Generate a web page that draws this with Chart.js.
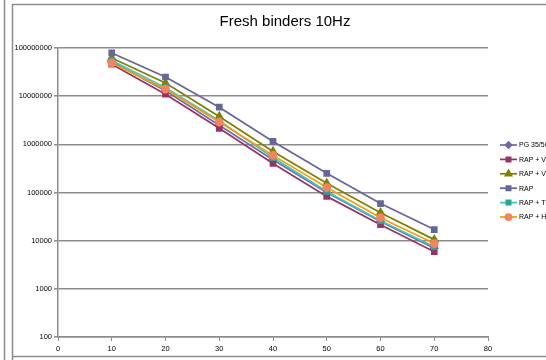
<!DOCTYPE html>
<html>
<head>
<meta charset="utf-8">
<script src="https://cdn.jsdelivr.net/npm/chart.js@4.4.0/dist/chart.umd.min.js"></script>
<style>
  body { margin: 0; background: #fff; }
  canvas { display: block; }
</style>
</head>
<body>
<canvas id="freqChart" width="546" height="360"></canvas>
<script>
// temperatures (x values) and stiffness per binder
const temps = [10, 20, 30, 40, 50, 60, 70];
const pg3550 = [5.2e7, 1.3e7, 2.5e6, 4.8e5, 1.0e5, 2.5e4, 7.0e3];
const rapVe = [4.6e7, 1.1e7, 2.15e6, 4.0e5, 8.3e4, 2.15e4, 5.9e3];
const rapVo = [6.2e7, 1.87e7, 3.8e6, 7.1e5, 1.55e5, 3.8e4, 1.05e4];
const rap = [7.9e7, 2.5e7, 5.9e6, 1.15e6, 2.5e5, 5.9e4, 1.7e4];
const rapTo = [5.5e7, 1.5e7, 3.1e6, 5.3e5, 1.05e5, 2.6e4, 7.5e3];
const rapHo = [4.9e7, 1.4e7, 2.9e6, 5.9e5, 1.27e5, 3.0e4, 8.7e3];
const yTicks = [100, 1000, 10000, 100000, 1000000, 10000000, 100000000];
const xTicks = [0, 10, 20, 30, 40, 50, 60, 70, 80];

const labelFont = "'Liberation Sans', sans-serif";

function toPoints(vals) {
    return temps.map((t, i) => ({ x: t, y: vals[i] }));
}

const seriesDefs = [
    { label: "PG 35/50", data: pg3550, line: "#7070b0", fill: "#6a6aa8", style: "rectRot", r: 3.5 },
    { label: "RAP + VE", data: rapVe, line: "#993366", fill: "#993366", style: "rect", r: 3.5 },
    { label: "RAP + VO", data: rapVo, line: "#808000", fill: "#808000", style: "triangle", r: 4 },
    { label: "RAP", data: rap, line: "#666699", fill: "#666699", style: "rect", r: 3.5 },
    { label: "RAP + TO", data: rapTo, line: "#33cccc", fill: "#2aa595", style: "rect", r: 3.5 },
    { label: "RAP + HO", data: rapHo, line: "#ff9900", fill: "#f4845f", style: "circle", r: 3.5 }
];

// frame, title and the Excel-like legend
const decorPlugin = {
    id: "decor",
    afterDraw(chart) {
        const c = chart.ctx;
        c.save();
        c.strokeStyle = "#8c8c8c";
        c.lineWidth = 1.5;
        c.beginPath();
        c.moveTo(4.5, 0); c.lineTo(4.5, 360);
        c.moveTo(12.5, 360); c.lineTo(12.5, 4.5); c.lineTo(546, 4.5);
        c.moveTo(12.5, 356.5); c.lineTo(546, 356.5);
        c.stroke();

        c.fillStyle = "#000";
        c.font = "15px 'Liberation Sans', sans-serif";
        c.textAlign = "center";
        c.textBaseline = "middle";
        c.fillText("Fresh binders 10Hz", 285, 22);

        c.font = "7px " + labelFont;
        c.textAlign = "left";
        seriesDefs.forEach((s, i) => {
            const y = 145 + i * 14.4;
            c.strokeStyle = s.line;
            c.lineWidth = 1.75;
            c.beginPath();
            c.moveTo(500, y); c.lineTo(517, y);
            c.stroke();
            c.fillStyle = s.fill;
            c.strokeStyle = s.fill;
            Chart.helpers.drawPoint(c, { pointStyle: s.style, radius: s.r - 0.5, rotation: 0, borderWidth: 1 }, 508.5, y);
            c.fillStyle = "#000";
            c.fillText(s.label, 519, y + 0.5);
        });
        c.restore();
    }
};

const ctx = document.getElementById("freqChart").getContext("2d");
new Chart(ctx, {
    type: "line",
    data: {
        datasets: seriesDefs.map((s, i) => ({
            label: s.label,
            data: toPoints(s.data),
            borderColor: s.line,
            backgroundColor: s.fill,
            pointBackgroundColor: s.fill,
            pointBorderColor: s.fill,
            pointStyle: s.style,
            pointRadius: s.r,
            borderWidth: 1.75,
            tension: 0,
            order: seriesDefs.length - i
        }))
    },
    options: {
        responsive: false,
        animation: false,
        layout: { padding: { left: 0, right: 58, top: 48, bottom: 0 } },
        plugins: {
            legend: { display: false },
            tooltip: { enabled: false }
        },
        scales: {
            x: {
                type: "linear",
                min: 0,
                max: 80,
                afterBuildTicks: (scale) => { scale.ticks = xTicks.map(v => ({ value: v })); },
                afterFit: (scale) => { scale.height = 23; },
                grid: { drawOnChartArea: false, tickLength: 4, color: "#8c8c8c" },
                border: { color: "#8c8c8c", width: 1.5 },
                ticks: { font: { family: labelFont, size: 7.5 }, color: "#000", padding: 3, maxRotation: 0 }
            },
            y: {
                type: "logarithmic",
                min: 100,
                max: 100000000,
                afterBuildTicks: (scale) => { scale.ticks = yTicks.map(v => ({ value: v })); },
                afterFit: (scale) => { scale.width = 58; },
                grid: { color: "#8c8c8c", lineWidth: 1.5, tickLength: 4 },
                border: { color: "#8c8c8c", width: 1.5 },
                ticks: {
                    font: { family: labelFont, size: 7.5 },
                    color: "#000",
                    padding: 2,
                    callback: (v) => String(v)
                }
            }
        }
    },
    plugins: [decorPlugin]
});
</script>
</body>
</html>
